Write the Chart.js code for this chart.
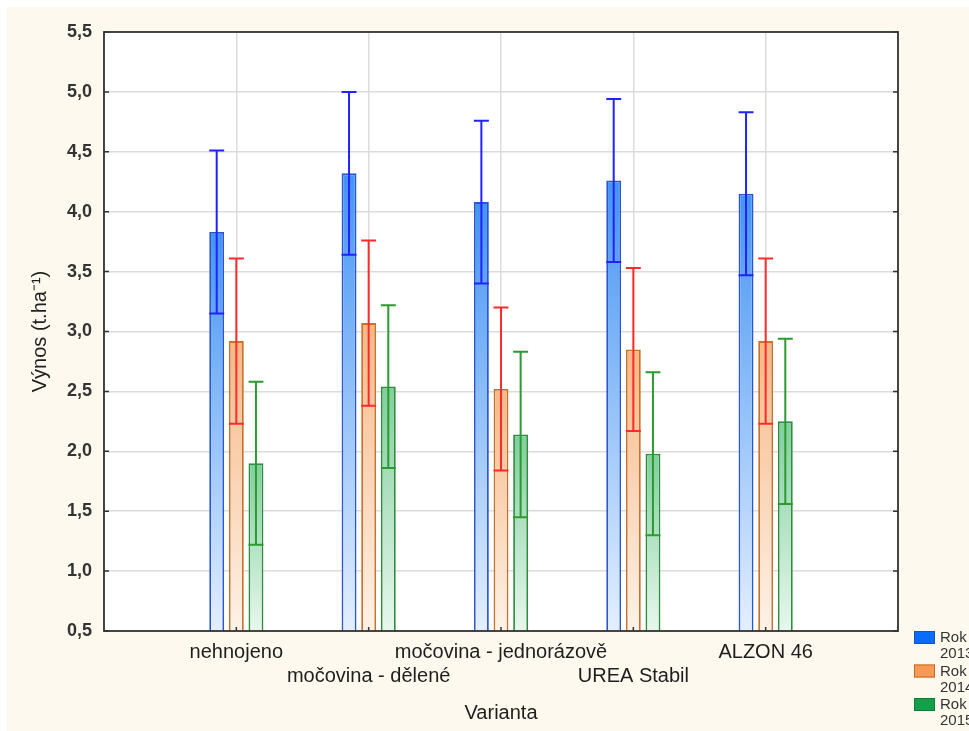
<!DOCTYPE html>
<html>
<head>
<meta charset="utf-8">
<script src="https://cdn.jsdelivr.net/npm/chart.js@4.4.1/dist/chart.umd.min.js"></script>
<style>
  html, body { margin: 0; padding: 0; background: #ffffff; }
  #wrap { width: 969px; height: 731px; }
</style>
</head>
<body>
<div id="wrap"><canvas id="chart" width="969" height="731"></canvas></div>
<script>
// values
const categories = ['nehnojeno', 'močovina - dělené', 'močovina - jednorázově', 'UREA Stabil', 'ALZON 46'];
const years = ['Rok 2013', 'Rok 2014', 'Rok 2015'];
const mean2013 = [3.83, 4.32, 4.08, 4.26, 4.15];
const mean2014 = [2.92, 3.07, 2.52, 2.85, 2.92];
const mean2015 = [1.90, 2.54, 2.14, 1.98, 2.25];
const err2013 = [0.68, 0.68, 0.68, 0.68, 0.68];
const err2014 = [0.69, 0.69, 0.68, 0.68, 0.69];
const err2015 = [0.68, 0.68, 0.69, 0.68, 0.69];
const yTicks = [0.5, 1.0, 1.5, 2.0, 2.5, 3.0, 3.5, 4.0, 4.5, 5.0, 5.5];

const FONT = '"Liberation Sans", Arial, sans-serif';
Chart.defaults.font.family = FONT;

// empty slot on both sides, categories sit on 1..5
const labels = ['', ...categories, ''];
const pad = arr => [null, ...arr, null];

function grad(c0, c1) {
    return function (ctx) {
        const chart = ctx.chart;
        const area = chart.chartArea;
        if (!area || ctx.raw == null || !chart.scales.y) return c0;
        const top = chart.scales.y.getPixelForValue(ctx.raw);
        const g = chart.ctx.createLinearGradient(0, top, 0, area.bottom);
        g.addColorStop(0, c0);
        g.addColorStop(1, c1);
        return g;
    };
}

const styles = [
    { fill: grad('#4394f4', '#e4effd'), border: '#2a56d0', err: '#2222ff', key: '#0a6cff', keyBorder: '#1d4fb5' },
    { fill: grad('#f7b886', '#fdf2e8'), border: '#c8722e', err: '#ff2a2a', key: '#f89a55', keyBorder: '#c46a28' },
    { fill: grad('#80cf9c', '#e8f7ee'), border: '#2e8d3c', err: '#2c9a30', key: '#12a04a', keyBorder: '#157a36' }
];
const means = [mean2013, mean2014, mean2015];
const errs = [err2013, err2014, err2015];

const datasets = years.map((name, i) => ({
    label: name,
    data: pad(means[i]),
    err: pad(errs[i]),
    backgroundColor: styles[i].fill,
    borderColor: styles[i].border,
    borderWidth: 1.8,
    errColor: styles[i].err,
    categoryPercentage: 0.445,
    barPercentage: 0.76
}));

const frame = {
    id: 'frame',
    beforeDraw(chart) {
        const { ctx, chartArea: a, width, height } = chart;
        ctx.save();
        ctx.fillStyle = '#fdf9ef';
        ctx.fillRect(7, 7, width - 7, height - 7);
        ctx.fillStyle = '#ffffff';
        ctx.fillRect(a.left, a.top, a.right - a.left, a.bottom - a.top);
        ctx.restore();
    },
    afterDraw(chart) {
        const { ctx, chartArea: a, scales: { y, x } } = chart;
        ctx.save();
        ctx.strokeStyle = '#333333';
        ctx.lineWidth = 1.5;
        yTicks.forEach(v => {
            const py = y.getPixelForValue(v);
            ctx.beginPath();
            ctx.moveTo(a.left, py); ctx.lineTo(a.left + 5, py);
            ctx.moveTo(a.right, py); ctx.lineTo(a.right - 5, py);
            ctx.stroke();
        });
        categories.forEach((c, i) => {
            const px = x.getPixelForValue(i + 1);
            ctx.beginPath();
            ctx.moveTo(px, a.bottom); ctx.lineTo(px, a.bottom - 4);
            ctx.stroke();
        });
        ctx.lineWidth = 1.8;
        ctx.strokeRect(a.left, a.top, a.right - a.left, a.bottom - a.top);
        ctx.restore();
    }
};

const errorBars = {
    id: 'errorBars',
    afterDatasetsDraw(chart) {
        const { ctx, scales: { y } } = chart;
        chart.data.datasets.forEach((ds, di) => {
            const meta = chart.getDatasetMeta(di);
            ctx.save();
            ctx.strokeStyle = ds.errColor;
            ctx.lineWidth = 2;
            meta.data.forEach((bar, i) => {
                const v = ds.data[i];
                const e = ds.err[i];
                if (v == null) return;
                const hi = y.getPixelForValue(v + e);
                const lo = y.getPixelForValue(v - e);
                const hw = bar.width / 2;
                ctx.beginPath();
                ctx.moveTo(bar.x, hi); ctx.lineTo(bar.x, lo);
                ctx.moveTo(bar.x - hw, hi); ctx.lineTo(bar.x + hw, hi);
                ctx.moveTo(bar.x - hw, lo); ctx.lineTo(bar.x + hw, lo);
                ctx.stroke();
            });
            ctx.restore();
        });
    }
};

const keyBox = {
    id: 'keyBox',
    afterDraw(chart) {
        const ctx = chart.ctx;
        ctx.save();
        ctx.font = '15px ' + FONT;
        ctx.textBaseline = 'middle';
        years.forEach((name, i) => {
            const top = 631 + i * 33.5;
            ctx.fillStyle = styles[i].key;
            ctx.fillRect(914, top, 21, 13);
            ctx.strokeStyle = styles[i].keyBorder;
            ctx.lineWidth = 1;
            ctx.strokeRect(914.5, top + 0.5, 20, 12);
            ctx.fillStyle = '#333333';
            const parts = name.split(' ');
            ctx.fillText(parts[0], 940, top + 7);
            ctx.fillText(parts[1], 940, top + 23);
        });
        ctx.restore();
    }
};

new Chart(document.getElementById('chart'), {
    type: 'bar',
    data: { labels, datasets },
    plugins: [frame, errorBars, keyBox],
    options: {
        responsive: false,
        animation: false,
        devicePixelRatio: 1,
        layout: { padding: { top: 32, right: 71, left: 0, bottom: 0 } },
        plugins: { legend: { display: false }, tooltip: { enabled: false } },
        scales: {
            x: {
                offset: false,
                grid: { offset: false, color: '#dcdcdc', lineWidth: 1.5, drawTicks: false },
                border: { display: false },
                ticks: {
                    autoSkip: false,
                    maxRotation: 0,
                    minRotation: 0,
                    padding: 9,
                    color: '#1e1e1e',
                    font: { size: 20 },
                    callback: (v, i) => (i % 2 === 0 && labels[i] ? ['', labels[i]] : labels[i])
                },
                title: { display: true, text: 'Varianta', color: '#1e1e1e', font: { size: 20 }, padding: { bottom: 6 } },
                afterFit: s => { s.height = 100; }
            },
            y: {
                min: 0.5,
                max: 5.5,
                afterBuildTicks: s => { s.ticks = yTicks.map(v => ({ value: v })); },
                grid: { color: '#dcdcdc', lineWidth: 1.5, drawTicks: false },
                border: { display: false },
                ticks: {
                    padding: 12,
                    color: '#333333',
                    font: { size: 18, weight: 'bold' },
                    callback: v => v.toFixed(1).replace('.', ',')
                },
                title: { display: true, text: 'Výnos (t.ha⁻¹)', color: '#1e1e1e', font: { size: 20 }, padding: { top: 28 } },
                afterFit: s => { s.width = 104; }
            }
        }
    }
});
</script>
</body>
</html>
